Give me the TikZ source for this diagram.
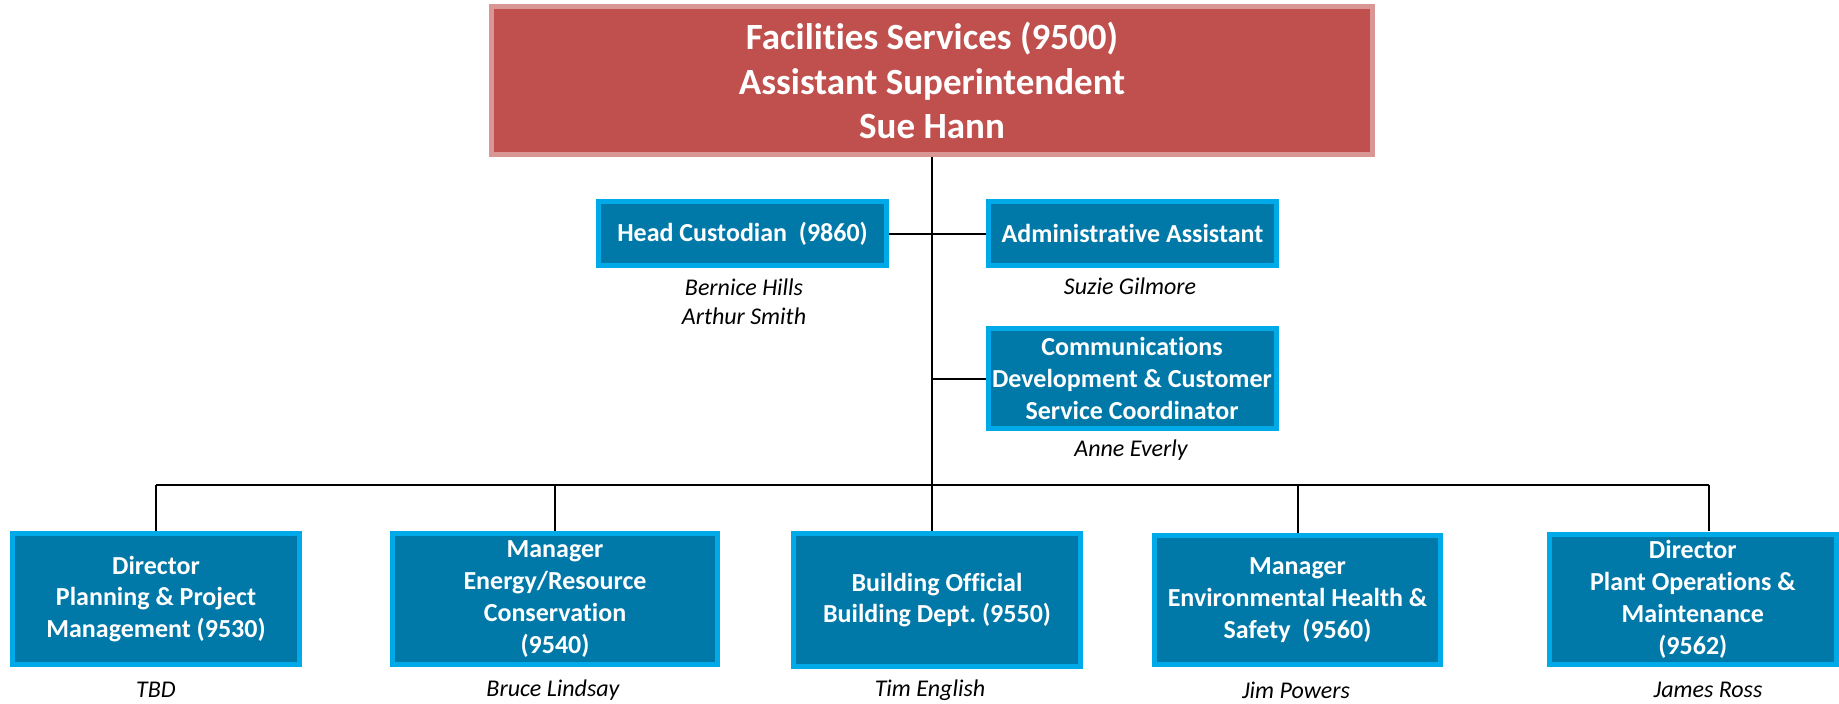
\documentclass[tikz,border=0pt]{standalone}
\usepackage{fontspec}
\setmainfont{Carlito}[Ligatures=NoCommon]
\frenchspacing
\definecolor{redfill}{HTML}{C0504D}
\definecolor{redline}{HTML}{D99694}
\definecolor{bluefill}{HTML}{0079A9}
\definecolor{blueline}{HTML}{00A9E8}
\tikzset{
  topbox/.style={draw=redline, fill=redfill, line width=5pt, inner sep=0pt, align=center,
    text=white, font=\fontsize{37}{44.6}\selectfont\bfseries},
  bluebox/.style={draw=blueline, fill=bluefill, line width=5pt, inner sep=0pt, align=center,
    text=white, font=\fontsize{26}{31.8}\selectfont\bfseries},
  person/.style={inner sep=0pt, align=center, font=\fontsize{24}{29}\selectfont\itshape},
  link/.style={draw=black, line width=2pt}
}
\begin{document}
\begin{tikzpicture}[x=1pt,y=-1pt]
\useasboundingbox (0,0) rectangle (1839,704);
% top
\node[topbox, minimum width=881, minimum height=148] (top) at (932,80.5)
  {Facilities Services (9500)\\Assistant Superintendent\\Sue Hann};
% middle
\node[bluebox, minimum width=288, minimum height=64] (head) at (742.5,233.5)
  {Head Custodian\ \ (9860)};
\node[bluebox, minimum width=288, minimum height=64] (admin) at (1132.5,233.5)
  {Administrative Assistant};
\node[bluebox, minimum width=288, minimum height=100] (comms) at (1132,378.5)
  {Communications\\Development \& Customer\\Service Coordinator};
\node[person] (nhead) at (744,302) {Bernice Hills\\Arthur Smith};
\node[person] (nadmin) at (1130,286) {Suzie Gilmore};
\node[person] (ncomms) at (1131,450) {Anne Everly};
% bottom
\node[bluebox, minimum width=287, minimum height=131] (b1) at (156,599)
  {Director\\Planning \& Project\\Management (9530)};
\node[bluebox, minimum width=325, minimum height=131] (b2) at (555,599)
  {Manager\\Energy/Resource\\Conservation\\(9540)};
\node[bluebox, minimum width=287, minimum height=133] (b3) at (937,600)
  {Building Official\\Building Dept. (9550)};
\node[bluebox, minimum width=286, minimum height=129] (b4) at (1297.5,600)
  {Manager\\Environmental Health \&\\Safety\ \ (9560)};
\node[bluebox, minimum width=287.5, minimum height=130] (b5) at (1692.8,599.5)
  {Director\\Plant Operations \&\\Maintenance\\(9562)};
\node[person] (n1) at (156,690) {TBD};
\node[person] (n2) at (553,690) {Bruce Lindsay};
\node[person] (n3) at (930,690) {Tim English};
\node[person] (n4) at (1296,690) {Jim Powers};
\node[person] (n5) at (1708,690) {James Ross};
% connectors
\coordinate (bus) at (0,484.7);
\coordinate (d5) at (1709,531);
\draw[link] (top.south) -- (top.south |- b3.north);
\draw[link] (head.east) -- (admin.west);
\draw[link] (comms.west) -- (comms.west -| top.south);
\draw[link] (b1.north |- bus) -- (d5 |- bus);
\draw[link] (b1.north) -- (b1.north |- bus);
\draw[link] (b2.north) -- (b2.north |- bus);
\draw[link] (b4.north) -- (b4.north |- bus);
\draw[link] (d5) -- (d5 |- bus);
\end{tikzpicture}
\end{document}
